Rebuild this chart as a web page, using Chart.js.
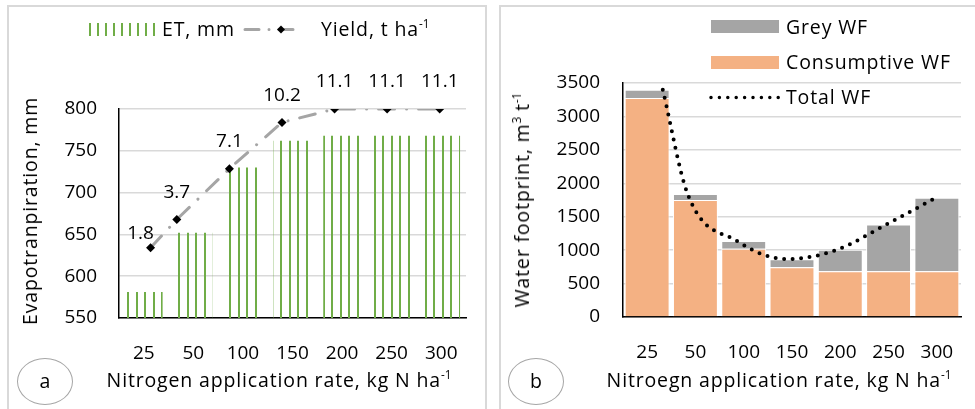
<!DOCTYPE html>
<html>
<head>
<meta charset="utf-8">
<script src="https://cdn.jsdelivr.net/npm/chart.js@4.4.1/dist/chart.umd.min.js"></script>
<style>
  body { margin: 0; width: 975px; height: 409px; overflow: hidden; background: #fff; position: relative;
         font-family: 'Open Sans', sans-serif; color: #000; }
  .panel { position: absolute; border: 2px solid #d9d9d9; }
  #pa { left: 7px; top: 5px; width: 476px; height: 430px; }
  #pb { left: 499px; top: 5px; width: 520px; height: 430px; }
  canvas { position: absolute; top: 0; }
  #chartA { left: 0; }
  #chartB { left: 490px; }
  .t { position: absolute; font-size: 19.5px; line-height: 24px; white-space: nowrap; letter-spacing: 0.85px; }
  .c { transform: translate(-50%, -50%); }
  .rot { transform: translate(-50%, -50%) rotate(-90deg); }
  sup { font-size: 0.6em; vertical-align: 0; position: relative; top: -0.65em; letter-spacing: 0; }
  .ell { position: absolute; border: 1.5px solid #a6a6a6; border-radius: 50%; box-sizing: border-box; }
  .sw { position: absolute; }
</style>
</head>
<body>
<div class="panel" id="pa"></div>
<div class="panel" id="pb"></div>
<canvas id="chartA" width="490" height="409"></canvas>
<canvas id="chartB" width="485" height="409"></canvas>

<!-- panel a legend -->
<div class="sw" style="left:89px;top:23px;width:67px;height:13px;background:repeating-linear-gradient(90deg,#70ad47 0 2px,transparent 2px 8px);"></div>
<div class="t" style="left:162px;top:17px;">ET, mm</div>
<svg class="sw" style="left:240px;top:22px;" width="70" height="16">
  <line x1="5" y1="7.5" x2="63" y2="7.5" stroke="#a5a5a5" stroke-width="3" stroke-dasharray="14 10 0.01 10" stroke-linecap="round"/>
  <polygon points="41,3.5 45,7.5 41,11.5 37,7.5" fill="#000"/>
</svg>
<div class="t" style="left:321px;top:17px;">Yield, t ha<sup>-1</sup></div>
<div class="t rot" style="left:30px;top:211px;">Evapotranpiration, mm</div>
<div class="t c" style="left:279px;top:381px;">Nitrogen application rate, kg N ha<sup>-1</sup></div>
<div class="ell" style="left:17px;top:358px;width:56px;height:47px;"></div>
<div class="t c" style="left:45px;top:381px;letter-spacing:0;">a</div>

<!-- panel b legend -->
<div class="sw" style="left:711px;top:20px;width:68px;height:13px;background:#a5a5a5;"></div>
<div class="t" style="left:786px;top:15px;">Grey WF</div>
<div class="sw" style="left:711px;top:56px;width:68px;height:13px;background:#f4b183;"></div>
<div class="t" style="left:786px;top:50px;">Consumptive WF</div>
<svg class="sw" style="left:706px;top:90px;" width="80" height="16">
  <line x1="5" y1="7.5" x2="74" y2="7.5" stroke="#000" stroke-width="3.5" stroke-dasharray="0 8.4" stroke-linecap="round"/>
</svg>
<div class="t" style="left:786px;top:85px;">Total WF</div>
<div class="t rot" style="left:523px;top:200px;">Water footprint, m<sup>3</sup> t<sup>-1</sup></div>
<div class="t c" style="left:779px;top:381px;">Nitroegn application rate, kg N ha<sup>-1</sup></div>
<div class="ell" style="left:508px;top:358px;width:56px;height:47px;"></div>
<div class="t c" style="left:536px;top:381px;letter-spacing:0;">b</div>

<script>
// values
const nRates = [25, 50, 100, 150, 200, 250, 300];
const nLabels = ['25', '50', '100', '150', '200', '250', '300'];
const etMm = [581, 652, 730, 762, 768, 768, 768];
const yieldT = [1.8, 3.7, 7.1, 10.2, 11.1, 11.1, 11.1];
const consumptiveWF = [3275, 1750, 1020, 745, 685, 685, 685];
const greyWF = [125, 90, 115, 120, 320, 700, 1100];
const totalWF = consumptiveWF.map((v, i) => v + greyWF[i]);

const tickFont = { family: "'Open Sans', sans-serif", size: 19 };
const plainTick = (v) => String(v);

// vertical line pattern for ET bars
function stripes() {
  const c = document.createElement('canvas');
  c.width = 17;
  c.height = 4;
  const g = c.getContext('2d');
  g.fillStyle = '#70ad47';
  g.fillRect(0, 0, 2, 4);
  g.fillRect(8, 0, 2, 4);
  return g.createPattern(c, 'repeat');
}

const yieldLabels = {
  id: 'yieldLabels',
  afterDatasetsDraw(chart) {
    const meta = chart.getDatasetMeta(0);
    const ctx = chart.ctx;
    ctx.save();
    ctx.font = "19px 'Open Sans', sans-serif";
    ctx.fillStyle = '#000';
    ctx.textAlign = 'center';
    ctx.textBaseline = 'middle';
    meta.data.forEach((pt, i) => {
      const dx = i === 0 ? -10 : 0;
      const dy = i === 0 ? -14 : -27;
      ctx.fillText(yieldT[i].toFixed(1), pt.x + dx, pt.y + dy);
    });
    ctx.restore();
  },
};

// (a) ET bars + yield
new Chart(document.getElementById('chartA'), {
  data: {
    labels: nLabels,
    datasets: [
      {
        type: 'line',
        data: nRates.map((n, i) => ({ x: n, y: yieldT[i] })),
        xAxisID: 'x2',
        yAxisID: 'y2',
        borderColor: '#a5a5a5',
        borderWidth: 3,
        borderDash: [16, 12, 0.01, 12],
        borderCapStyle: 'round',
        pointStyle: 'rectRot',
        pointRadius: 4.5,
        pointBackgroundColor: '#000',
        pointBorderColor: '#000',
        pointBorderWidth: 0,
        tension: 0,
        order: 0,
      },
      {
        type: 'bar',
        data: etMm,
        backgroundColor: stripes(),
        barPercentage: 0.76,
        categoryPercentage: 1,
        grouped: false,
        order: 1,
      },
    ],
  },
  options: {
    responsive: false,
    animation: false,
    events: [],
    layout: { padding: { top: 109, right: 24, left: 0, bottom: 0 } },
    plugins: { legend: { display: false }, tooltip: { enabled: false } },
    scales: {
      x: {
        grid: { display: false },
        border: { color: '#000', width: 1.5 },
        ticks: { color: '#000', font: tickFont, padding: 16 },
        afterFit: (s) => { s.height = 91; },
      },
      y: {
        min: 550,
        max: 800,
        ticks: { stepSize: 50, color: '#000', font: tickFont, padding: 22, callback: plainTick },
        grid: { color: '#d9d9d9', lineWidth: 1.5, drawTicks: false },
        border: { color: '#000', width: 1.5 },
        afterFit: (s) => { s.width = 119; },
      },
      x2: { type: 'linear', display: false, min: -5, max: 325 },
      y2: { display: false, min: -2.9, max: 11.1 },
    },
  },
  plugins: [yieldLabels],
});

// (b) water footprint
new Chart(document.getElementById('chartB'), {
  data: {
    labels: nLabels,
    datasets: [
      {
        type: 'line',
        label: 'Total WF',
        data: nRates.map((n, i) => ({ x: n, y: totalWF[i] })),
        xAxisID: 'x2',
        borderColor: '#000',
        borderWidth: 4,
        borderDash: [0, 8.5],
        borderCapStyle: 'round',
        pointRadius: 0,
        cubicInterpolationMode: 'monotone',
        order: 0,
      },
      {
        type: 'bar',
        label: 'Consumptive WF',
        data: consumptiveWF,
        backgroundColor: '#f4b183',
        borderColor: '#fff',
        borderWidth: 1,
        barPercentage: 0.93,
        categoryPercentage: 1,
        grouped: false,
        order: 1,
      },
      {
        type: 'bar',
        label: 'Grey WF',
        data: greyWF,
        backgroundColor: '#a5a5a5',
        borderColor: '#fff',
        borderWidth: 1,
        barPercentage: 0.93,
        categoryPercentage: 1,
        grouped: false,
        order: 1,
      },
    ],
  },
  options: {
    responsive: false,
    animation: false,
    events: [],
    layout: { padding: { top: 83, right: 14, left: 0, bottom: 0 } },
    plugins: { legend: { display: false }, tooltip: { enabled: false } },
    scales: {
      x: {
        stacked: true,
        grid: { display: false },
        border: { color: '#000', width: 1.5 },
        ticks: { color: '#000', font: tickFont, padding: 16 },
        afterFit: (s) => { s.height = 92; },
      },
      y: {
        stacked: true,
        min: 0,
        max: 3500,
        ticks: { stepSize: 500, color: '#000', font: tickFont, padding: 23, callback: plainTick },
        grid: { color: '#d9d9d9', lineWidth: 1.5, drawTicks: false },
        border: { color: '#000', width: 1.5 },
        afterFit: (s) => { s.width = 133; },
      },
      x2: { type: 'linear', display: false, min: -15, max: 325 },
    },
  },
});
</script>
</body>
</html>
